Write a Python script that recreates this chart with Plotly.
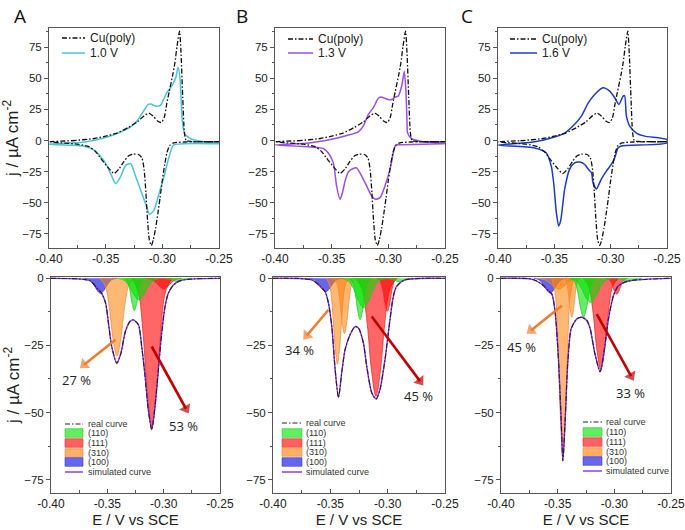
import plotly.graph_objects as go

W, H = 685, 530

# ---------------- top row: cyclic voltammograms ----------------
# Cu(poly) reference (same in every top panel)
cu_an_x = [-0.400, -0.380, -0.360, -0.350, -0.340, -0.330, -0.322, -0.316, -0.312, -0.308, -0.304,
           -0.301, -0.2985, -0.296, -0.294, -0.291, -0.289, -0.287, -0.2848, -0.2835, -0.2820,
           -0.2805, -0.279, -0.275, -0.250]
cu_an_y = [-1, -0.2, 1.6, 3.5, 6, 10.5, 15, 20, 22, 19.5, 15.5, 14.5, 18, 30, 39, 52, 62, 76, 88,
           70, 35, 6, 0, -0.8, -1]
cu_ca_x = [-0.250, -0.280, -0.290, -0.2935, -0.296, -0.298, -0.300, -0.302, -0.304, -0.306, -0.308,
           -0.3097, -0.3115, -0.3132, -0.3145, -0.316, -0.318, -0.321, -0.326, -0.330, -0.334,
           -0.338, -0.3426, -0.347, -0.353, -0.3588, -0.3647, -0.375, -0.400]
cu_ca_y = [-1, -1.2, -2, -4, -10, -20, -32, -46, -59, -71, -80, -84.5, -80, -62, -42, -24, -14,
           -11.3, -11, -12.5, -17, -22.6, -26.6, -22.6, -16, -9, -5, -3, -1]

# 1.0 V (panel A)
a_an_x = [-0.400, -0.370, -0.350, -0.340, -0.328, -0.322, -0.316, -0.3125, -0.310, -0.306, -0.3015,
          -0.2985, -0.2956, -0.2912, -0.288, -0.2862, -0.2845, -0.2835, -0.2824, -0.2805, -0.2794,
          -0.2735, -0.260, -0.250]
a_an_y = [-3, -1.5, 2.4, 5.6, 11, 16, 24.5, 29, 29.3, 27.7, 28.5, 34, 39, 44.6, 51, 59, 51, 35, 16,
          6, 4.3, 0.8, -1.5, -2.4]
a_ca_x = [-0.250, -0.290, -0.294, -0.2985, -0.303, -0.3073, -0.3112, -0.3147, -0.3191, -0.3235,
          -0.328, -0.3324, -0.3368, -0.3412, -0.3456, -0.350, -0.3544, -0.3603, -0.369, -0.400]
a_ca_y = [-2.6, -3.8, -13, -29, -43, -56, -59.4, -51, -40, -29, -18.5, -20, -29, -34.7, -26.6,
          -18.5, -13, -7.8, -4.6, -3]

# 1.3 V (panel B)
b_an_x = [-0.400, -0.370, -0.350, -0.3382, -0.3265, -0.322, -0.3176, -0.3132, -0.3088, -0.306,
          -0.3044, -0.300, -0.297, -0.294, -0.2912, -0.2882, -0.2859, -0.2845, -0.2835, -0.283,
          -0.2794, -0.2676, -0.250]
b_an_y = [-3.6, -2, 1, 3.6, 7, 11.7, 21, 26.4, 34, 35, 34.4, 33, 33, 35, 35.8, 43.8, 55.8, 40, 15,
          6, 1.5, -1.2, -2.3]
b_ca_x = [-0.250, -0.292, -0.294, -0.2956, -0.2985, -0.303, -0.3073, -0.3112, -0.3147, -0.3191,
          -0.3235, -0.328, -0.331, -0.335, -0.338, -0.3405, -0.3426, -0.3456, -0.3485, -0.353,
          -0.3574, -0.400]
b_ca_y = [-2.5, -3.5, -4.4, -10, -23, -36.7, -46, -47.3, -44.6, -36.7, -28.6, -22, -22.5, -25, -32,
          -42, -47.3, -37, -18, -10, -6.5, -3.6]

# 1.6 V (panel C)
c_an_x = [-0.400, -0.370, -0.3527, -0.3408, -0.332, -0.326, -0.320, -0.3142, -0.3068, -0.3009,
          -0.2964, -0.2926, -0.289, -0.2876, -0.286, -0.2831, -0.2772, -0.2698, -0.250]
c_an_y = [-3.7, -1.5, 2, 6, 13, 19.6, 30, 37, 42.4, 39.7, 34.4, 29, 35.7, 36, 19.6, 11.5, 6, 3.5,
          0.8]
c_ca_x = [-0.250, -0.2906, -0.2935, -0.2964, -0.2994, -0.3038, -0.3083, -0.3127, -0.3157, -0.317,
          -0.320, -0.323, -0.3275, -0.332, -0.3364, -0.3408, -0.3444, -0.3462, -0.3482, -0.3506,
          -0.3527, -0.3571, -0.3675, -0.400]
c_ca_y = [-2, -4.5, -6, -14, -19.3, -24.6, -31, -39, -34, -26, -23, -19.3, -17.4, -18, -23, -39,
          -64.6, -68.7, -58, -34, -20.7, -10, -6, -3.7]

# ---------------- bottom row: deconvolution ----------------
real_a_x = [-0.400, -0.372, -0.365, -0.359, -0.355, -0.3515, -0.349, -0.346, -0.3416, -0.338,
            -0.334, -0.3298, -0.327, -0.3224, -0.3195, -0.3165, -0.3136, -0.3106, -0.3077,
            -0.3047, -0.3018, -0.2988, -0.2959, -0.2914, -0.2855, -0.2737, -0.250]
real_a_y = [0, -0.3, -1, -3.7, -5.6, -9.3, -16.7, -25.6, -31.6, -28, -19.8, -16, -15.5, -17.3,
            -25.4, -36.5, -49, -56.4, -47.7, -34, -20.4, -10.5, -5.6, -2.5, -0.9, -0.2, 0]
real_b_x = [-0.400, -0.366, -0.3588, -0.3545, -0.3516, -0.3487, -0.3458, -0.3429, -0.340, -0.3371,
            -0.3328, -0.3284, -0.3255, -0.3212, -0.3183, -0.3139, -0.3101, -0.3067, -0.3023,
            -0.298, -0.2951, -0.2922, -0.285, -0.250]
real_b_y = [0, -0.6, -3, -5, -9.3, -18, -34, -44.4, -35, -26.5, -21, -18, -18.5, -24, -32.7, -42.6,
            -45, -41.4, -30.2, -15.4, -6.8, -3, -0.6, 0]
real_c_x = [-0.400, -0.373, -0.3639, -0.358, -0.3551, -0.3522, -0.3492, -0.3469, -0.3454, -0.3434,
            -0.341, -0.3381, -0.3331, -0.3287, -0.3243, -0.3213, -0.3175, -0.3125, -0.3087,
            -0.3052, -0.3008, -0.2964, -0.2876, -0.250]
real_c_y = [0, -0.3, -2.2, -4.7, -5.9, -12.7, -31, -53, -68, -53, -31, -18.8, -15.1, -14.5, -15.7,
            -18.8, -27.4, -34.8, -26.2, -15.1, -6.5, -2.8, -1, 0]
sim_a_y = real_a_y
sim_b_y = real_b_y
sim_c_y = real_c_y

# fitted components, panel A
a100_x = [-0.3704, -0.3659, -0.3623, -0.3592, -0.356, -0.3529, -0.3497, -0.3461, -0.3416]
a100_y = [0, -0.5, -2.1, -4.4, -5.6, -4.4, -2.1, -0.5, 0]
a310_x = [-0.3569, -0.3521, -0.3482, -0.3449, -0.3415, -0.3381, -0.3348, -0.3309, -0.3261]
a310_y = [0, -2.6, -11, -22.6, -29, -22.6, -11, -2.6, 0]
a110_x = [-0.335, -0.3322, -0.3299, -0.328, -0.326, -0.324, -0.3221, -0.3198, -0.317]
a110_y = [0, -1.1, -4.5, -9.4, -12, -9.4, -4.5, -1.1, 0]
a110b_x = [-0.3412, -0.3352, -0.3304, -0.3262, -0.322, -0.3178, -0.3136, -0.3088, -0.3028]
a110b_y = [0, -0.7, -3.0, -6.2, -8, -6.2, -3.0, -0.7, 0]
a110c_x = [-0.3008, -0.2968, -0.2936, -0.2908, -0.288, -0.2852, -0.2824, -0.2792, -0.2752]
a110c_y = [0, -0.1, -0.45, -0.95, -1.2, -0.95, -0.45, -0.1, 0]
a111_x = [-0.3281, -0.3226, -0.3182, -0.3144, -0.3105, -0.3066, -0.3028, -0.2984, -0.2929]
a111_y = [0, -5, -21, -43.3, -55.5, -43.3, -21, -5, 0]
a111b_x = [-0.316, -0.311, -0.307, -0.3035, -0.300, -0.2965, -0.293, -0.289, -0.284]
a111b_y = [0, -0.4, -1.5, -3.1, -4, -3.1, -1.5, -0.4, 0]

# fitted components, panel B
b100_x = [-0.3684, -0.3639, -0.3603, -0.3572, -0.354, -0.3509, -0.3477, -0.3441, -0.3396]
b100_y = [0, -0.45, -1.9, -3.9, -5, -3.9, -1.9, -0.45, 0]
b310_x = [-0.3534, -0.3504, -0.348, -0.3459, -0.3438, -0.3417, -0.3396, -0.3372, -0.3342]
b310_y = [0, -2.9, -12.2, -25, -32, -25, -12.2, -2.9, 0]
b310b_x = [-0.3473, -0.3443, -0.3419, -0.3398, -0.3377, -0.3356, -0.3335, -0.3311, -0.3281]
b310b_y = [0, -1.9, -7.8, -16.1, -20.6, -16.1, -7.8, -1.9, 0]
b110_x = [-0.3336, -0.3306, -0.3282, -0.3261, -0.324, -0.3219, -0.3198, -0.3174, -0.3144]
b110_y = [0, -1.4, -5.9, -12, -15.4, -12, -5.9, -1.4, 0]
b110b_x = [-0.3402, -0.3342, -0.3294, -0.3252, -0.321, -0.3168, -0.3126, -0.3078, -0.3018]
b110b_y = [0, -1, -4.2, -8.6, -11, -8.6, -4.2, -1, 0]
b110c_x = [-0.3028, -0.2988, -0.2956, -0.2928, -0.290, -0.2872, -0.2844, -0.2812, -0.2772]
b110c_y = [0, -0.1, -0.45, -0.95, -1.2, -0.95, -0.45, -0.1, 0]
b111_x = [-0.3278, -0.3223, -0.3179, -0.3141, -0.3102, -0.3063, -0.3025, -0.2981, -0.2926]
b111_y = [0, -4, -16.7, -34.3, -44, -34.3, -16.7, -4, 0]
b111b_x = [-0.3093, -0.3065, -0.3042, -0.3023, -0.3003, -0.2983, -0.2964, -0.2941, -0.2913]
b111b_y = [0, -1.1, -4.6, -9.6, -12.3, -9.6, -4.6, -1.1, 0]

# fitted components, panel C
c100_x = [-0.371, -0.3665, -0.3629, -0.3598, -0.3566, -0.3535, -0.3503, -0.3467, -0.3422]
c100_y = [0, -0.5, -2.1, -4.3, -5.5, -4.3, -2.1, -0.5, 0]
c310c_x = [-0.3682, -0.3622, -0.3574, -0.3532, -0.349, -0.3448, -0.3406, -0.3358, -0.3298]
c310c_y = [0, -0.4, -1.5, -3.1, -4, -3.1, -1.5, -0.4, 0]
c310_x = [-0.355, -0.352, -0.3496, -0.3475, -0.3454, -0.3433, -0.3412, -0.3388, -0.3358]
c310_y = [0, -6, -25.5, -52.5, -67, -52.5, -25.5, -6, 0]
c310b_x = [-0.3445, -0.3423, -0.3406, -0.339, -0.3375, -0.336, -0.3344, -0.3327, -0.3305]
c310b_y = [0, -1.3, -5.5, -11.3, -14.5, -11.3, -5.5, -1.3, 0]
c110_x = [-0.3384, -0.3349, -0.3321, -0.3297, -0.3272, -0.3247, -0.3223, -0.3195, -0.316]
c110_y = [0, -1.3, -5.5, -11.3, -14.5, -11.3, -5.5, -1.3, 0]
c110b_x = [-0.3402, -0.3342, -0.3294, -0.3252, -0.321, -0.3168, -0.3126, -0.3078, -0.3018]
c110b_y = [0, -0.8, -3.4, -7, -9, -7, -3.4, -0.8, 0]
c110c_x = [-0.3008, -0.2968, -0.2936, -0.2908, -0.288, -0.2852, -0.2824, -0.2792, -0.2752]
c110c_y = [0, -0.1, -0.45, -0.95, -1.2, -0.95, -0.45, -0.1, 0]
c111_x = [-0.3274, -0.3226, -0.3187, -0.3154, -0.312, -0.3086, -0.3053, -0.3014, -0.2966]
c111_y = [0, -3, -12.9, -26.6, -34, -26.6, -12.9, -3, 0]
c111b_x = [-0.3075, -0.3045, -0.3021, -0.3, -0.2979, -0.2958, -0.2937, -0.2913, -0.2883]
c111b_y = [0, -0.5, -2.2, -4.6, -5.9, -4.6, -2.2, -0.5, 0]

# percentages + arrows
pct_labels = ["27 %", "53 %", "34 %", "45 %", "45 %", "33 %"]
arrow_tail_x = [-0.3428, -0.3106, -0.3516, -0.3139, -0.3463, -0.3155]
arrow_tail_y = [-22.9, -25.4, -11.7, -14.2, -10.2, -13.3]
arrow_head_x = [-0.3706, -0.2802, -0.3705, -0.2718, -0.3736, -0.2852]
arrow_head_y = [-32.2, -48.6, -21.3, -38.3, -19.4, -36.4]
label_x = [-0.3770, -0.2824, -0.3770, -0.2733, -0.3815, -0.2861]
label_y = [-37.8, -55.1, -26.8, -44.0, -25.6, -42.8]

cv_names = ["1.0 V", "1.3 V", "1.6 V"]
cv_colors = ["#4dc3da", "#9a4fe6", "#1b3cc4"]
facets = ["(110)", "(111)", "(310)", "(100)"]

FILL = {"(110)": "rgba(0,225,0,0.6)", "(111)": "rgba(255,0,0,0.6)",
        "(310)": "rgba(255,125,0,0.55)", "(100)": "rgba(0,0,225,0.6)"}
EDGE = {"(110)": "rgb(40,200,40)", "(111)": "rgb(235,45,45)",
        "(310)": "rgb(245,140,60)", "(100)": "rgb(60,60,215)"}
SOLID = {"(110)": "#61ef61", "(111)": "#ff6161", "(310)": "#ffae66", "(100)": "#6666ee"}
SIM_COLOR = "#8b2be8"
FONT = "Liberation Sans, Arial, sans-serif"
DASHDOT = "5px,2px,1.5px,2px"

fig = go.Figure()

def px(x):
    return x / W

def py(y):
    return 1 - y / H

# ---- top traces
cv_sets = [(a_an_x, a_an_y, a_ca_x, a_ca_y), (b_an_x, b_an_y, b_ca_x, b_ca_y),
           (c_an_x, c_an_y, c_ca_x, c_ca_y)]
for i, (ax_, ay_, cx_, cy_) in enumerate(cv_sets):
    xa, ya = ("x", "y") if i == 0 else (f"x{i+1}", f"y{i+1}")
    fig.add_trace(go.Scatter(x=ax_ + cx_, y=ay_ + cy_, mode="lines", name=cv_names[i],
                             line=dict(color=cv_colors[i], width=1.5, shape="spline", smoothing=0.6),
                             xaxis=xa, yaxis=ya, showlegend=False))
    fig.add_trace(go.Scatter(x=cu_an_x + cu_ca_x, y=cu_an_y + cu_ca_y, mode="lines", name="Cu(poly)",
                             line=dict(color="#111111", width=1.3, dash=DASHDOT, shape="spline",
                                       smoothing=0.6),
                             xaxis=xa, yaxis=ya, showlegend=False))

# ---- bottom traces
panels = [
    {"(100)": [(a100_x, a100_y)], "(310)": [(a310_x, a310_y)],
     "(111)": [(a111_x, a111_y), (a111b_x, a111b_y)],
     "(110)": [(a110_x, a110_y), (a110b_x, a110b_y), (a110c_x, a110c_y)],
     "real": (real_a_x, real_a_y), "sim": (real_a_x, sim_a_y)},
    {"(100)": [(b100_x, b100_y)], "(310)": [(b310_x, b310_y), (b310b_x, b310b_y)],
     "(111)": [(b111_x, b111_y), (b111b_x, b111b_y)],
     "(110)": [(b110_x, b110_y), (b110b_x, b110b_y), (b110c_x, b110c_y)],
     "real": (real_b_x, real_b_y), "sim": (real_b_x, sim_b_y)},
    {"(100)": [(c100_x, c100_y)], "(310)": [(c310c_x, c310c_y), (c310_x, c310_y), (c310b_x, c310b_y)],
     "(111)": [(c111_x, c111_y), (c111b_x, c111b_y)],
     "(110)": [(c110_x, c110_y), (c110b_x, c110b_y), (c110c_x, c110c_y)],
     "real": (real_c_x, real_c_y), "sim": (real_c_x, sim_c_y)},
]
for i, p in enumerate(panels):
    xa, ya = f"x{i+4}", f"y{i+4}"
    for f in ["(100)", "(310)", "(111)", "(110)"]:
        for (xx, yy) in p[f]:
            fig.add_trace(go.Scatter(x=xx, y=yy, mode="lines", name=f, fill="tozeroy",
                                     fillcolor=FILL[f],
                                     line=dict(color=EDGE[f], width=0.8, shape="spline", smoothing=1),
                                     xaxis=xa, yaxis=ya, showlegend=False))
    fig.add_trace(go.Scatter(x=p["sim"][0], y=p["sim"][1], mode="lines", name="simulated curve",
                             line=dict(color=SIM_COLOR, width=1.4, shape="spline", smoothing=0.7),
                             xaxis=xa, yaxis=ya, showlegend=False))
    fig.add_trace(go.Scatter(x=p["real"][0], y=p["real"][1], mode="lines", name="real curve",
                             line=dict(color="#222222", width=1.1, dash=DASHDOT, shape="spline",
                                       smoothing=0.7),
                             xaxis=xa, yaxis=ya, showlegend=False))

# arrows (line + triangular end marker)
arrow_colors = ["#ef7d31", "#c00000"] * 3
for k in range(6):
    n = str(4 + k // 2)
    fig.add_trace(go.Scatter(x=[arrow_tail_x[k], arrow_head_x[k]], y=[arrow_tail_y[k], arrow_head_y[k]],
                             mode="lines+markers", name=pct_labels[k],
                             line=dict(color=arrow_colors[k], width=2.6),
                             marker=dict(symbol="triangle-up", size=[0, 11], angleref="previous",
                                         color=arrow_colors[k], line=dict(width=0)),
                             xaxis="x" + n, yaxis="y" + n, showlegend=False, hoverinfo="skip"))

# ---- axes
top_y = [py(248), py(28)]
bot_y = [py(493), py(277)]
x_doms = [[px(49), px(219)], [px(275), px(445)], [px(498), px(667)],
          [px(51), px(220)], [px(273), px(445)], [px(501), px(671)]]
axis_line = dict(showline=True, linecolor="#555555", linewidth=1, mirror=True, showgrid=False,
                 zeroline=False, automargin=False)
layout = {}
for i in range(6):
    n = "" if i == 0 else str(i + 1)
    ydom = top_y if i < 3 else bot_y
    layout[f"xaxis{n}"] = dict(domain=x_doms[i], anchor=f"y{n}", range=[-0.40, -0.25],
                               tickvals=[-0.40, -0.35, -0.30, -0.25],
                               ticktext=["-0.40", "-0.35", "-0.30", "-0.25"],
                               ticks="inside", ticklen=4, tickcolor="#555555",
                               tickfont=dict(family=FONT, size=12, color="#222222"),
                               minor=dict(tickvals=[-0.375, -0.325, -0.275], ticks="inside",
                                          ticklen=3, tickcolor="#555555"),
                               **axis_line)
    yfont = dict(family=FONT, size=11.5, color="#222222")
    if i < 3:
        layout[f"yaxis{n}"] = dict(domain=ydom, anchor=f"x{n}", range=[-86.5, 90.5],
                                   tickvals=[-75, -50, -25, 0, 25, 50, 75],
                                   ticks="outside", ticklen=4, tickcolor="#555555", tickfont=yfont,
                                   minor=dict(dtick=12.5, ticks="outside", ticklen=2,
                                              tickcolor="#555555"),
                                   **axis_line)
    else:
        layout[f"yaxis{n}"] = dict(domain=ydom, anchor=f"x{n}", range=[-80, 0.5],
                                   tickvals=[-75, -50, -25, 0],
                                   ticks="outside", ticklen=4, tickcolor="#555555", tickfont=yfont,
                                   minor=dict(dtick=12.5, ticks="outside", ticklen=2,
                                              tickcolor="#555555"),
                                   **axis_line)
        layout[f"xaxis{n}"]["title"] = dict(text="E / V vs SCE", standoff=4,
                                            font=dict(family=FONT, size=15, color="#222222"))
ytitle = dict(text="j / µA cm<sup>-2</sup>", standoff=0, font=dict(family=FONT, size=17, color="#222222"))
layout["yaxis"]["title"] = ytitle
layout["yaxis4"]["title"] = ytitle

annotations = []
shapes = []

# panel letters
for letter, (lx, ly) in zip(["A", "B", "C"], [(20, 16), (242, 16), (467, 16)]):
    annotations.append(dict(text=letter, x=px(lx), y=py(ly), xref="paper", yref="paper",
                            xanchor="center", yanchor="middle", showarrow=False,
                            font=dict(family="Open Sans, sans-serif", size=19, color="#111111")))

# top legends (drawn in paper space)
top_leg = [(62, 85, 88, 38, 53), (288, 313, 316, 39, 53), (510, 537, 540, 39, 53)]
for i, (x0, x1, tx, y0, y1) in enumerate(top_leg):
    shapes.append(dict(type="line", xref="paper", yref="paper", x0=px(x0), x1=px(x1),
                       y0=py(y0), y1=py(y0), line=dict(color="#111111", width=1.3, dash=DASHDOT)))
    shapes.append(dict(type="line", xref="paper", yref="paper", x0=px(x0), x1=px(x1),
                       y0=py(y1), y1=py(y1), line=dict(color=cv_colors[i], width=1.5)))
    for txt, yy in [("Cu(poly)", y0), (cv_names[i], y1)]:
        annotations.append(dict(text=txt, x=px(tx), y=py(yy), xref="paper", yref="paper",
                                xanchor="left", yanchor="middle", showarrow=False,
                                font=dict(family=FONT, size=12, color="#222222")))

# bottom legends
bot_leg = [(65, 83, 86, [424, 433, 443, 453, 462, 472]),
           (282, 302, 304, [423, 433, 443, 452, 462, 472]),
           (583, 602, 604, [422, 432, 442, 452, 461, 471])]
for (x0, x1, tx, ys) in bot_leg:
    shapes.append(dict(type="line", xref="paper", yref="paper", x0=px(x0), x1=px(x1),
                       y0=py(ys[0]), y1=py(ys[0]), line=dict(color="#222222", width=1, dash=DASHDOT)))
    for f, yy in zip(facets, ys[1:5]):
        shapes.append(dict(type="rect", xref="paper", yref="paper", x0=px(x0), x1=px(x1),
                           y0=py(yy + 4.3), y1=py(yy - 4.3), fillcolor=SOLID[f],
                           line=dict(color=EDGE[f], width=0.6)))
    shapes.append(dict(type="line", xref="paper", yref="paper", x0=px(x0), x1=px(x1),
                       y0=py(ys[5]), y1=py(ys[5]), line=dict(color=SIM_COLOR, width=1.4)))
    for txt, yy in zip(["real curve"] + facets + ["simulated curve"], ys):
        annotations.append(dict(text=txt, x=px(tx), y=py(yy), xref="paper", yref="paper",
                                xanchor="left", yanchor="middle", showarrow=False,
                                font=dict(family=FONT, size=9, color="#333333")))

# percentage labels
for k in range(6):
    n = str(4 + k // 2)
    annotations.append(dict(x=label_x[k], y=label_y[k], xref="x" + n, yref="y" + n,
                            text=pct_labels[k], showarrow=False, yanchor="middle",
                            font=dict(family="Open Sans, sans-serif", size=13, color="#222222")))

fig.update_layout(width=W, height=H, margin=dict(l=0, r=0, t=0, b=0, autoexpand=False),
                  paper_bgcolor="white", plot_bgcolor="white", showlegend=False,
                  annotations=annotations, shapes=shapes, **layout)

fig.write_html("out.html", config={"displayModeBar": False},
               post_script="document.body.style.margin='0';document.body.style.padding='0';"
                           "document.body.style.overflow='hidden';")
